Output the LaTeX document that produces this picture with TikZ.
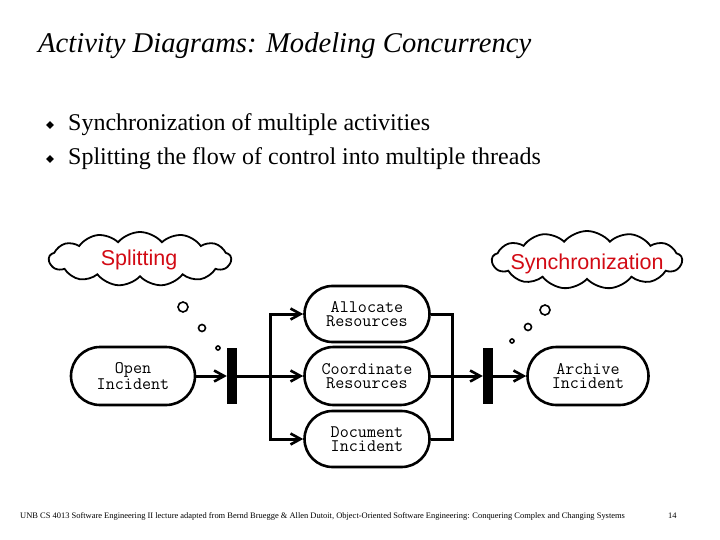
\documentclass[tikz,border=0pt]{standalone}
\usepackage{fontspec}
\setmainfont{Liberation Serif}
\newfontfamily\sansf{Liberation Sans}
\usetikzlibrary{shapes.misc,shapes.symbols,shapes.geometric,arrows.meta}
\definecolor{cloudred}{RGB}{210,10,20}
\tikzset{
  pill/.style={rounded rectangle, draw, line width=2.6pt, minimum width=124pt, minimum height=57pt, inner sep=0pt, align=center, font=\ttfamily\fontsize{17.6}{14.5}\selectfont},
  barnode/.style={rectangle, fill=black, draw=none, minimum width=10pt, minimum height=56pt, inner sep=0pt},
  flow/.style={line width=3pt, -{Straight Barb[length=10pt,width=11pt,line width=2.6pt]}},
  plainflow/.style={line width=3pt},
  thought/.style={cloud, draw, line width=1.8pt, cloud puffs=13, cloud puff arc=100, cloud ignores aspect, inner sep=0pt},
  bubble/.style={circle, draw, line width=1.6pt, inner sep=0pt},
  cloudtext/.style={text=cloudred, font=\sansf\fontsize{21.5}{24}\selectfont},
  bullet/.style={diamond, fill=black, inner sep=0pt, minimum size=8pt},
  bodytext/.style={anchor=base west, inner sep=0pt, font=\fontsize{24}{27}\selectfont}
}
\begin{document}
\begin{tikzpicture}[x=1pt,y=-1pt]
\useasboundingbox (0,0) rectangle (720,540);
% title
\node[anchor=base west, inner sep=0pt, font=\itshape\fontsize{28.6}{31}\selectfont] (title) at (38,53) {Activity Diagrams: Modeling Concurrency};
% bullets
\node[bullet] (b1) at (50,125) {};
\node[bodytext] (t1) at (68,131) {Synchronization of multiple activities};
\node[bullet] (b2) at (50,159) {};
\node[bodytext] (t2) at (68,165) {Splitting the flow of control into multiple threads};
% clouds
\node[thought, minimum width=182pt, minimum height=54pt] (c1) at (140,259) {};
\node[cloudtext] (c1t) at (139,260) {Splitting};
\node[thought, minimum width=190pt, minimum height=58pt] (c2) at (587,260) {};
\node[cloudtext] (c2t) at (587,264) {Synchronization};
% thought bubbles
\node[bubble, minimum size=10pt] (l1) at (183,307) {};
\node[bubble, minimum size=7pt] (l2) at (202,328) {};
\node[bubble, minimum size=4pt] (l3) at (218,348) {};
\node[bubble, minimum size=10pt] (r1) at (545,310) {};
\node[bubble, minimum size=7pt] (r2) at (528,327) {};
\node[bubble, minimum size=4pt] (r3) at (512,341) {};
% activities
\node[pill, minimum width=124pt, minimum height=58pt] (open) at (133,376) {Open\\Incident};
\node[barnode] (fork) at (232,376) {};
\node[pill, minimum width=125pt, minimum height=56pt] (alloc) at (367,314) {Allocate\\Resources};
\node[pill, minimum width=125pt, minimum height=58pt] (coord) at (367,376) {Coordinate\\Resources};
\node[pill, minimum width=125pt, minimum height=56pt] (doc) at (367,439) {Document\\Incident};
\node[barnode] (join) at (488,376) {};
\node[pill, minimum width=121pt, minimum height=58pt] (arch) at (588,376) {Archive\\Incident};
\coordinate (sx) at (270,376);
\coordinate (jx) at (452,376);
% connectors
\draw[flow] (open.east) -- (fork.west);
\draw[flow] (fork.east) -- (coord.west);
\draw[flow] (sx) |- (alloc.west);
\draw[flow] (sx) |- (doc.west);
\draw[plainflow] (alloc.east) -| (jx);
\draw[plainflow] (doc.east) -| (jx);
\draw[flow] (coord.east) -- (join.west);
\draw[flow] (join.east) -- (arch.west);
% footer
\node[anchor=base west, inner sep=0pt, font=\fontsize{8.45}{9}\selectfont] (foot) at (20,518) {UNB CS 4013 Software Engineering II lecture adapted from Bernd Bruegge \& Allen Dutoit, Object-Oriented Software Engineering: Conquering Complex and Changing Systems};
\node[anchor=base west, inner sep=0pt, font=\fontsize{8.45}{9}\selectfont] (page) at (668,518) {14};
\end{tikzpicture}
\end{document}
